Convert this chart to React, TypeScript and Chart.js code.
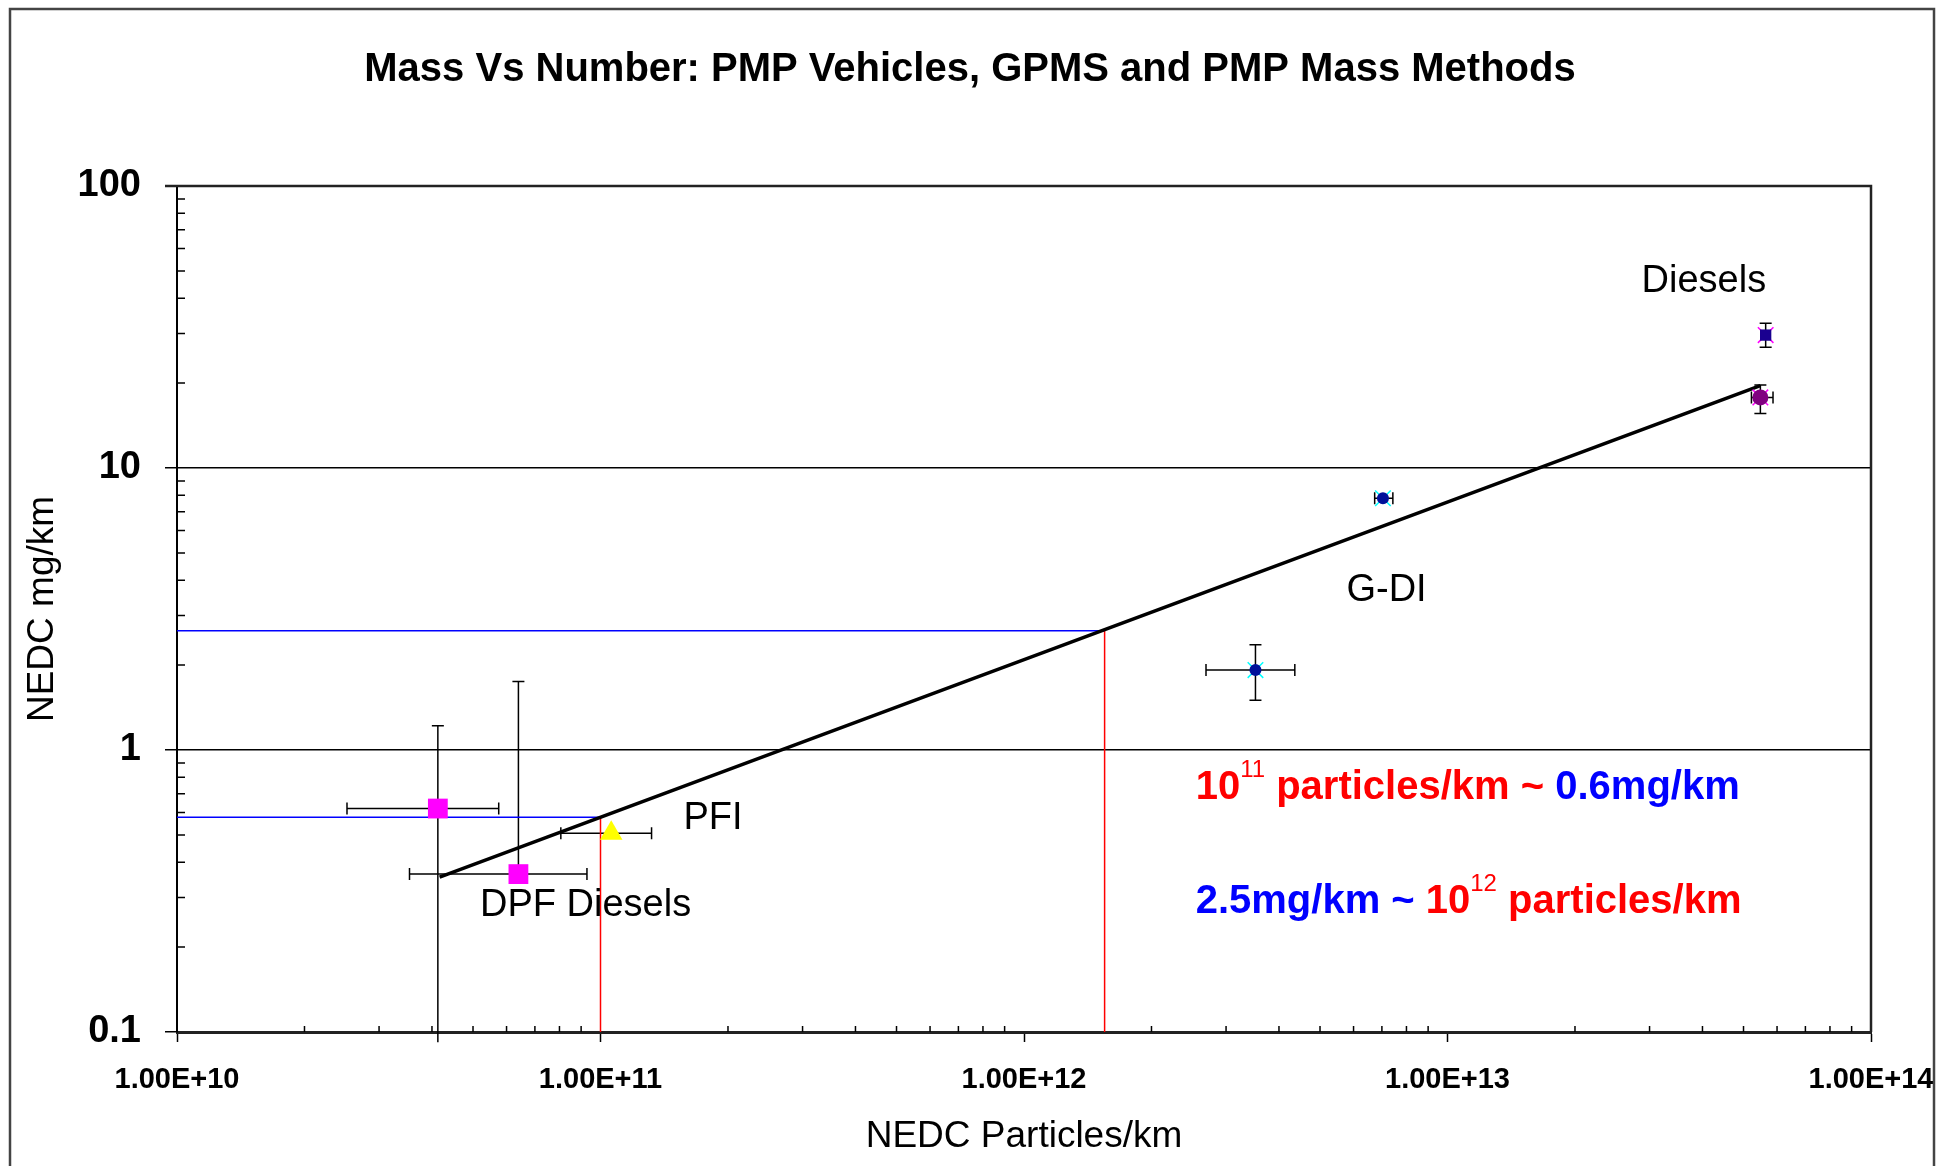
import React, { useEffect, useRef } from 'react';
import { Chart, registerables } from 'chart.js';

Chart.register(...registerables);

const FONT = '"Liberation Sans", Arial, Helvetica, sans-serif';
const RED = '#FF0000';
const BLUE = '#0000FF';

const TITLE = 'Mass Vs Number: PMP Vehicles, GPMS and PMP Mass Methods';
const X_TITLE = 'NEDC Particles/km';
const Y_TITLE = 'NEDC mg/km';

const X_MAJOR = [1e10, 1e11, 1e12, 1e13, 1e14];
const X_TICK_LABELS = ['1.00E+10', '1.00E+11', '1.00E+12', '1.00E+13', '1.00E+14'];
const Y_MAJOR = [0.1, 1, 10, 100];
const Y_TICK_LABELS = ['0.1', '1', '10', '100'];

// DPF Diesels (magenta squares)
const DPF_X = [4.13e10, 6.4e10];
const DPF_Y = [0.62, 0.363];
const DPF_X_LOW = [2.52e10, 3.54e10];
const DPF_X_HIGH = [5.75e10, 9.29e10];
const DPF_Y_LOW = [0.092, 0.363];
const DPF_Y_HIGH = [1.22, 1.75];

// PFI (yellow triangle)
const PFI_X = [1.06e11];
const PFI_Y = [0.507];
const PFI_X_LOW = [8.06e10];
const PFI_X_HIGH = [1.32e11];
const PFI_Y_LOW = [0.507];
const PFI_Y_HIGH = [0.507];

// G-DI
const GDI_X = [3.52e12, 7.04e12];
const GDI_Y = [1.92, 7.81];
const GDI_X_LOW = [2.69e12, 6.73e12];
const GDI_X_HIGH = [4.36e12, 7.43e12];
const GDI_Y_LOW = [1.5, 7.81];
const GDI_Y_HIGH = [2.36, 7.81];

// Diesels
const DIESEL_X = [5.64e13, 5.48e13];
const DIESEL_Y = [29.6, 17.8];
const DIESEL_X_LOW = [5.64e13, 5.22e13];
const DIESEL_X_HIGH = [5.64e13, 5.87e13];
const DIESEL_Y_LOW = [26.8, 15.6];
const DIESEL_Y_HIGH = [32.6, 19.7];

// Power-law trend line end points
const TREND_X = [4.17e10, 5.48e13];
const TREND_Y = [0.354, 19.6];

// Reference read-offs (particles/km -> mg/km)
const REF_X = [1e11, 1.55e12];
const REF_Y = [0.577, 2.65];

const LABELS = [
  { text: 'Diesels', x: 4.03e13, y: 47.2 },
  { text: 'G-DI', x: 7.18e12, y: 3.77 },
  { text: 'PFI', x: 1.844e11, y: 0.586 },
  { text: 'DPF Diesels', x: 9.22e10, y: 0.288 },
];

const RICH_LINES = [
  {
    x: 2.543e12,
    y: 0.67,
    parts: [
      { t: '10', c: RED },
      { t: '11', c: RED, sup: true },
      { t: ' particles/km ~ ', c: RED },
      { t: '0.6mg/km', c: BLUE },
    ],
  },
  {
    x: 2.543e12,
    y: 0.264,
    parts: [
      { t: '2.5mg/km ~ ', c: BLUE },
      { t: '10', c: RED },
      { t: '12', c: RED, sup: true },
      { t: ' particles/km', c: RED },
    ],
  },
];

const ERROR_SERIES = [
  { xs: DPF_X, ys: DPF_Y, xl: DPF_X_LOW, xh: DPF_X_HIGH, yl: DPF_Y_LOW, yh: DPF_Y_HIGH },
  { xs: PFI_X, ys: PFI_Y, xl: PFI_X_LOW, xh: PFI_X_HIGH, yl: PFI_Y_LOW, yh: PFI_Y_HIGH },
  { xs: GDI_X, ys: GDI_Y, xl: GDI_X_LOW, xh: GDI_X_HIGH, yl: GDI_Y_LOW, yh: GDI_Y_HIGH },
  { xs: DIESEL_X, ys: DIESEL_Y, xl: DIESEL_X_LOW, xh: DIESEL_X_HIGH, yl: DIESEL_Y_LOW, yh: DIESEL_Y_HIGH },
];

const xy = (xs: number[], ys: number[]) => xs.map((x, i) => ({ x, y: ys[i] }));

const overlayPlugin = {
  id: 'overlay',
  beforeDatasetsDraw(chart: any) {
    const ctx = chart.ctx;
    const sx = chart.scales.x;
    const sy = chart.scales.y;
    const cap = 6;
    ctx.save();
    ctx.strokeStyle = '#000';
    ctx.lineWidth = 1.5;
    const inY = (v: number) => v >= sy.min && v <= sy.max;
    const inX = (v: number) => v >= sx.min && v <= sx.max;
    ERROR_SERIES.forEach((s) => {
      s.xs.forEach((xv, i) => {
        const px = sx.getPixelForValue(xv);
        const py = sy.getPixelForValue(s.ys[i]);
        if (s.xl[i] !== xv || s.xh[i] !== xv) {
          const a = sx.getPixelForValue(s.xl[i]);
          const b = sx.getPixelForValue(s.xh[i]);
          ctx.beginPath();
          ctx.moveTo(a, py);
          ctx.lineTo(b, py);
          if (s.xl[i] !== xv && inX(s.xl[i])) {
            ctx.moveTo(a, py - cap);
            ctx.lineTo(a, py + cap);
          }
          if (s.xh[i] !== xv && inX(s.xh[i])) {
            ctx.moveTo(b, py - cap);
            ctx.lineTo(b, py + cap);
          }
          ctx.stroke();
        }
        if (s.yl[i] !== s.ys[i] || s.yh[i] !== s.ys[i]) {
          const a = sy.getPixelForValue(s.yl[i]);
          const b = sy.getPixelForValue(s.yh[i]);
          ctx.beginPath();
          ctx.moveTo(px, a);
          ctx.lineTo(px, b);
          if (s.yl[i] !== s.ys[i] && inY(s.yl[i])) {
            ctx.moveTo(px - cap, a);
            ctx.lineTo(px + cap, a);
          }
          if (s.yh[i] !== s.ys[i] && inY(s.yh[i])) {
            ctx.moveTo(px - cap, b);
            ctx.lineTo(px + cap, b);
          }
          ctx.stroke();
        }
      });
    });
    ctx.restore();
  },
  afterDatasetsDraw(chart: any) {
    const ctx = chart.ctx;
    const sx = chart.scales.x;
    const sy = chart.scales.y;
    const { left, right, top, bottom } = chart.chartArea;
    ctx.save();
    ctx.strokeStyle = '#000';
    ctx.lineWidth = 1.5;
    ctx.beginPath();
    for (let e = 10; e < 14; e++) {
      for (let m = 2; m <= 9; m++) {
        const px = sx.getPixelForValue(m * Math.pow(10, e));
        ctx.moveTo(px, bottom);
        ctx.lineTo(px, bottom - 6);
      }
    }
    for (let e = -1; e < 2; e++) {
      for (let m = 2; m <= 9; m++) {
        const py = sy.getPixelForValue(m * Math.pow(10, e));
        ctx.moveTo(left, py);
        ctx.lineTo(left + 8, py);
      }
    }
    ctx.stroke();
    ctx.strokeStyle = '#222';
    ctx.lineWidth = 2.5;
    ctx.beginPath();
    ctx.moveTo(left - 12, top);
    ctx.lineTo(right, top);
    ctx.lineTo(right, bottom);
    ctx.stroke();

    ctx.fillStyle = '#000';
    ctx.font = `38px ${FONT}`;
    ctx.textAlign = 'center';
    ctx.textBaseline = 'alphabetic';
    LABELS.forEach((l) => {
      const px = sx.getPixelForValue(l.x);
      const py = sy.getPixelForValue(l.y);
      ctx.fillText(l.text, px, py + 0.358 * 38);
    });

    ctx.textAlign = 'left';
    RICH_LINES.forEach((line) => {
      let px = sx.getPixelForValue(line.x);
      const py = sy.getPixelForValue(line.y);
      line.parts.forEach((p: any) => {
        ctx.font = p.sup ? `24px ${FONT}` : `bold 40px ${FONT}`;
        ctx.fillStyle = p.c;
        ctx.fillText(p.t, px, p.sup ? py - 22 : py);
        px += ctx.measureText(p.t).width;
      });
    });
    ctx.restore();
  },
  afterDraw(chart: any) {
    const ctx = chart.ctx;
    ctx.save();
    ctx.fillStyle = '#000';
    ctx.font = `bold 40px ${FONT}`;
    ctx.textAlign = 'center';
    ctx.textBaseline = 'alphabetic';
    ctx.fillText(TITLE, 970, 67 + 0.358 * 40);
    ctx.strokeStyle = '#444';
    ctx.lineWidth = 2.5;
    ctx.strokeRect(10, 9, 1924, 1170);
    ctx.restore();
  },
};

export default function App() {
  const ref = useRef<HTMLCanvasElement | null>(null);
  useEffect(() => {
    if (!ref.current) return;
    const chart = new Chart(ref.current, {
      type: 'scatter',
      data: {
        datasets: [
          {
            label: 'Trend',
            data: xy(TREND_X, TREND_Y),
            showLine: true,
            borderColor: '#000',
            borderWidth: 3.5,
            pointRadius: 0,
            order: 2,
          },
          {
            label: 'Red 1',
            data: [{ x: REF_X[0], y: 0.1 }, { x: REF_X[0], y: REF_Y[0] }],
            showLine: true,
            borderColor: RED,
            borderWidth: 1.5,
            pointRadius: 0,
            order: 3,
          },
          {
            label: 'Red 2',
            data: [{ x: REF_X[1], y: 0.1 }, { x: REF_X[1], y: REF_Y[1] }],
            showLine: true,
            borderColor: RED,
            borderWidth: 1.5,
            pointRadius: 0,
            order: 3,
          },
          {
            label: 'Blue 1',
            data: [{ x: 1e10, y: REF_Y[0] }, { x: REF_X[0], y: REF_Y[0] }],
            showLine: true,
            borderColor: BLUE,
            borderWidth: 1.5,
            pointRadius: 0,
            order: 3,
          },
          {
            label: 'Blue 2',
            data: [{ x: 1e10, y: REF_Y[1] }, { x: REF_X[1], y: REF_Y[1] }],
            showLine: true,
            borderColor: BLUE,
            borderWidth: 1.5,
            pointRadius: 0,
            order: 3,
          },
          {
            label: 'DPF Diesels',
            data: xy(DPF_X, DPF_Y),
            pointStyle: 'rect',
            pointRadius: 14,
            backgroundColor: '#FF00FF',
            borderWidth: 0,
            order: 1,
          },
          {
            label: 'PFI',
            data: xy(PFI_X, PFI_Y),
            pointStyle: 'triangle',
            pointRadius: 13,
            backgroundColor: '#FFFF00',
            borderWidth: 0,
            order: 1,
          },
          {
            label: 'G-DI',
            data: xy(GDI_X, GDI_Y),
            pointStyle: 'circle',
            pointRadius: 6,
            backgroundColor: '#00109a',
            borderWidth: 0,
            order: 0,
          },
          {
            label: 'G-DI x',
            data: xy(GDI_X, GDI_Y),
            pointStyle: 'crossRot',
            pointRadius: 11,
            borderColor: '#00FFFF',
            borderWidth: 1.5,
            order: 0.5,
          },
          {
            label: 'Diesels',
            data: xy(DIESEL_X, DIESEL_Y),
            pointStyle: ['rect', 'circle'] as any,
            pointRadius: [8, 8] as any,
            backgroundColor: ['#1a0090', '#800080'] as any,
            borderWidth: 0,
            order: 0,
          },
          {
            label: 'Diesels x',
            data: xy(DIESEL_X, DIESEL_Y),
            pointStyle: 'crossRot',
            pointRadius: 11,
            borderColor: '#FF00FF',
            borderWidth: 1.5,
            order: 0.5,
          },
        ] as any,
      },
      options: {
        responsive: false,
        animation: false,
        devicePixelRatio: 1,
        events: [],
        layout: { padding: { top: 186, right: 76, left: 0, bottom: 0 } },
        plugins: {
          legend: { display: false },
          tooltip: { enabled: false },
          title: { display: false },
        },
        scales: {
          x: {
            type: 'logarithmic',
            position: 'bottom',
            min: 1e10,
            max: 1e14,
            afterBuildTicks: (s: any) => {
              s.ticks = X_MAJOR.map((v) => ({ value: v, major: true }));
            },
            afterFit: (s: any) => {
              s.height = 134;
              s.paddingLeft = 0;
              s.paddingRight = 0;
            },
            ticks: {
              autoSkip: false,
              maxRotation: 0,
              minRotation: 0,
              padding: 21,
              color: '#000',
              font: { family: FONT, size: 29, weight: 'bold' },
              callback: (_v: any, i: number) => X_TICK_LABELS[i],
            },
            grid: {
              drawOnChartArea: false,
              drawTicks: true,
              tickLength: 10,
              tickColor: '#000',
              tickWidth: 1.5,
            },
            border: { display: true, color: '#222', width: 3 },
            title: {
              display: true,
              text: X_TITLE,
              color: '#000',
              font: { family: FONT, size: 37 },
              padding: { top: 0, bottom: 7 },
            },
          },
          y: {
            type: 'logarithmic',
            position: 'left',
            min: 0.1,
            max: 100,
            afterBuildTicks: (s: any) => {
              s.ticks = Y_MAJOR.map((v) => ({ value: v, major: true }));
            },
            afterFit: (s: any) => {
              s.width = 177;
              s.paddingTop = 0;
              s.paddingBottom = 0;
            },
            ticks: {
              autoSkip: false,
              padding: 24,
              color: '#000',
              font: { family: FONT, size: 38, weight: 'bold' },
              callback: (_v: any, i: number) => Y_TICK_LABELS[i],
            },
            grid: {
              drawOnChartArea: true,
              color: '#000',
              lineWidth: 1.5,
              drawTicks: true,
              tickLength: 12,
              tickColor: '#000',
              tickWidth: 1.5,
            },
            border: { display: true, color: '#000', width: 2 },
            title: {
              display: true,
              text: Y_TITLE,
              color: '#000',
              font: { family: FONT, size: 37 },
              padding: { top: 21, bottom: 0 },
            },
          },
        },
      } as any,
      plugins: [overlayPlugin],
    });
    return () => chart.destroy();
  }, []);

  return (
    <div
      style={{
        position: 'fixed',
        left: 0,
        top: 0,
        width: 1947,
        height: 1166,
        background: '#fff',
      }}
    >
      <canvas ref={ref} width={1947} height={1166} style={{ width: 1947, height: 1166, display: 'block' }} />
    </div>
  );
}
